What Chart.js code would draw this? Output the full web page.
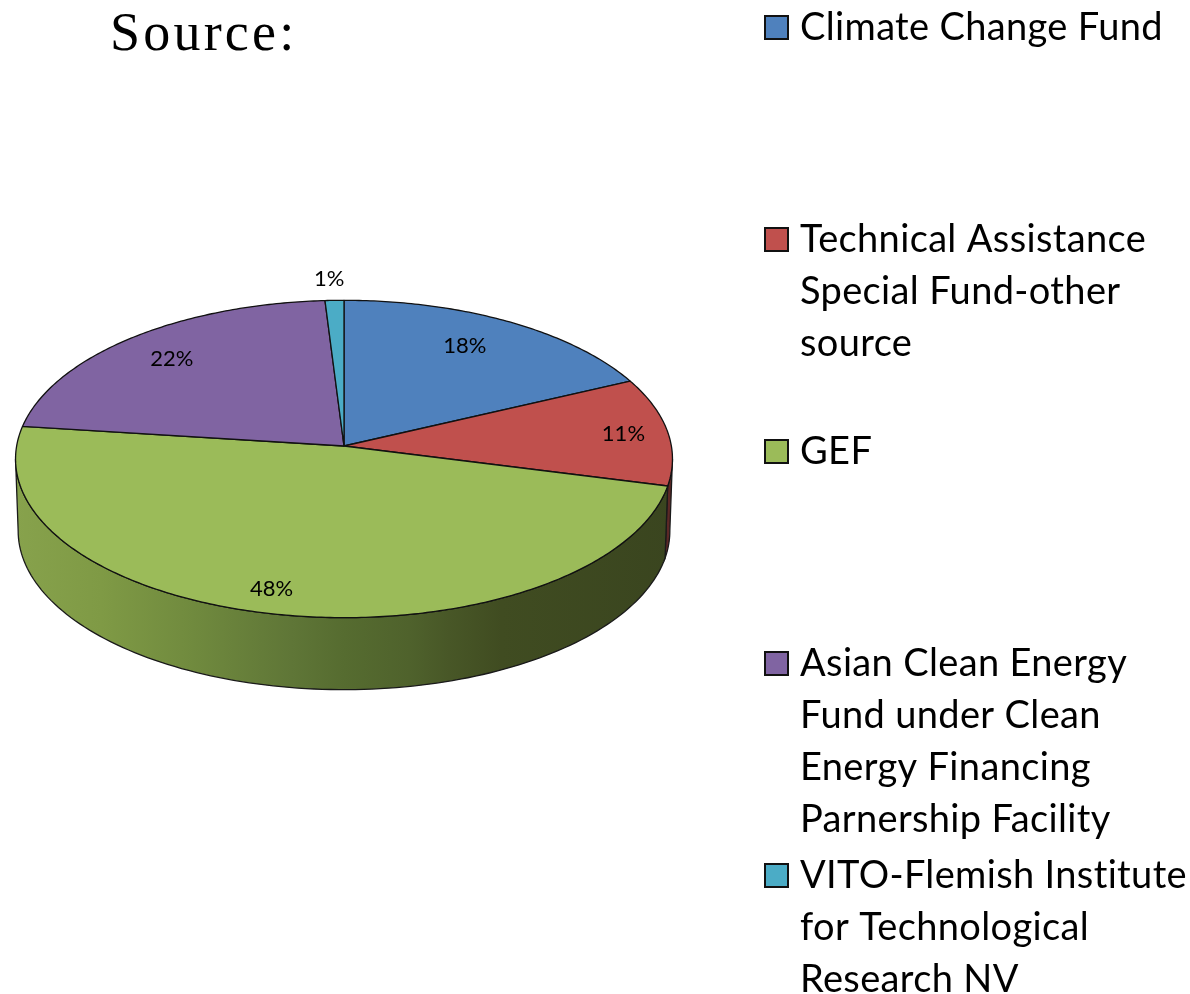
<!DOCTYPE html>
<html>
<head>
<meta charset="utf-8">
<style>html,body{margin:0;padding:0;background:#fff}canvas{display:block}</style>
<script src="https://cdn.jsdelivr.net/npm/chart.js@4/dist/chart.umd.min.js"></script>
</head>
<body>
<div style="position:relative;width:1190px;height:994px"><canvas id="c" width="1190" height="994"></canvas></div>
<script>
const categories = [
  ["Climate Change Fund"],
  ["Technical Assistance", "Special Fund-other", "source"],
  ["GEF"],
  ["Asian Clean Energy", "Fund under Clean", "Energy Financing", "Parnership Facility"],
  ["VITO-Flemish Institute", "for Technological", "Research NV"]
];
const values = [18, 11, 48, 22, 1];
const colors = ["#4f81bd", "#c0504d", "#9bbb59", "#8064a2", "#4bacc6"];
const wallShades = ["#3f5f8a", "#5c2826", "#6d863c", "#5d4a78", "#357f92"];
const labelReach = [0.78, 0.86, 0.90, 0.81, 1.145];
const labelNudge = [[-9, -2], [1, 1], [-13, -7], [1, 2], [-4, -2]];
const titleText = "Source:";

const TILT = 0.48, PERSP = -0.0818, WIDTH = 0.997, DEPTH = 72, BOTTOM_W = 0.992;
const FONT = "Lato";

function project(el, ang, reach, w) {
  const u = Math.cos(ang), v = Math.sin(ang), den = 1 + PERSP * v * reach;
  return {
    x: el.x + el.outerRadius * WIDTH * (w || 1) * reach * u / den,
    y: el.y + el.outerRadius * TILT * reach * v / den
  };
}

const pie3d = {
  id: "pie3d",
  beforeDatasetsDraw(chart) {
    const ctx = chart.ctx, arcs = chart.getDatasetMeta(0).data;
    const sil = Math.acos(PERSP);            // silhouette, measured from 12 o'clock
    const from = sil - Math.PI / 2, to = 2 * Math.PI - sil - Math.PI / 2;
    arcs.forEach((el, i) => {
      const s = Math.max(el.startAngle, from), e = Math.min(el.endAngle, to);
      if (e > s) {
        const n = 120;
        ctx.beginPath();
        for (let k = 0; k <= n; k++) {
          const p = project(el, s + (e - s) * k / n, 1);
          k ? ctx.lineTo(p.x, p.y) : ctx.moveTo(p.x, p.y);
        }
        for (let k = n; k >= 0; k--) {
          const p = project(el, s + (e - s) * k / n, 1, BOTTOM_W);
          ctx.lineTo(p.x, p.y + DEPTH);
        }
        ctx.closePath();
        if (i === 2) {
          const g = ctx.createLinearGradient(el.x - el.outerRadius, 0, el.x + el.outerRadius, 0);
          [[0, "#87a24c"], [0.13, "#7f9a45"], [0.27, "#708a3e"], [0.42, "#5f7637"], [0.5, "#566c30"],
           [0.6, "#4f622c"], [0.66, "#485727"], [0.74, "#404c21"], [1, "#3a451f"]]
            .forEach(st => g.addColorStop(st[0], st[1]));
          ctx.fillStyle = g;
        } else ctx.fillStyle = wallShades[i];
        ctx.fill();
        ctx.strokeStyle = "#1a1a1a";
        ctx.lineWidth = 1.3;
        ctx.stroke();
      }
      el.draw = function (c) {
        const span = this.endAngle - this.startAngle, n = Math.max(8, Math.ceil(span * 80));
        const o = this.options;
        c.save();
        c.beginPath();
        c.moveTo(this.x, this.y);
        for (let k = 0; k <= n; k++) {
          const p = project(this, this.startAngle + span * k / n, 1);
          c.lineTo(p.x, p.y);
        }
        c.closePath();
        c.fillStyle = o.backgroundColor;
        c.fill();
        c.strokeStyle = o.borderColor;
        c.lineWidth = o.borderWidth;
        c.lineJoin = "round";
        c.stroke();
        c.restore();
      };
    });
  },
  afterDatasetsDraw(chart) {
    const ctx = chart.ctx, arcs = chart.getDatasetMeta(0).data;
    ctx.save();
    ctx.fillStyle = "#000";
    ctx.font = "22px " + FONT;
    ctx.textAlign = "center";
    ctx.textBaseline = "middle";
    arcs.forEach((el, i) => {
      const mid = (el.startAngle + el.endAngle) / 2;
      const p = project(el, mid, labelReach[i]);
      ctx.fillText(values[i] + "%", p.x + labelNudge[i][0], p.y + labelNudge[i][1]);
    });
    ctx.restore();
  },
  afterDraw(chart) {
    const ctx = chart.ctx;
    ctx.save();
    ctx.fillStyle = "#000";
    ctx.textBaseline = "alphabetic";
    ctx.textAlign = "left";
    ctx.font = "54px 'Liberation Serif'";
    ctx.letterSpacing = "3.2px";
    ctx.fillText(titleText, 110, 50);
    ctx.font = "38px " + FONT;
    ctx.letterSpacing = "0.35px";
    categories.forEach((lines, i) => {
      const cy = 27 + 212 * i;
      ctx.fillStyle = colors[i];
      ctx.fillRect(765, cy - 11, 23, 23);
      ctx.strokeStyle = "#111";
      ctx.lineWidth = 2;
      ctx.strokeRect(765, cy - 11, 23, 23);
      ctx.fillStyle = "#000";
      lines.forEach((t, j) => ctx.fillText(t, 800, cy + 13 + 52 * j));
    });
    ctx.restore();
  }
};

new Chart(document.getElementById("c"), {
  type: "pie",
  data: {
    labels: categories.map(l => l.join(" ")),
    datasets: [{ data: values, backgroundColor: colors, borderColor: "#111", borderWidth: 1.3 }]
  },
  options: {
    responsive: false,
    animation: false,
    layout: { padding: { left: 15, right: 517, top: 117, bottom: 219 } },
    plugins: { legend: { display: false }, title: { display: false }, tooltip: { enabled: false } }
  },
  plugins: [pie3d]
});
</script>
</body>
</html>
